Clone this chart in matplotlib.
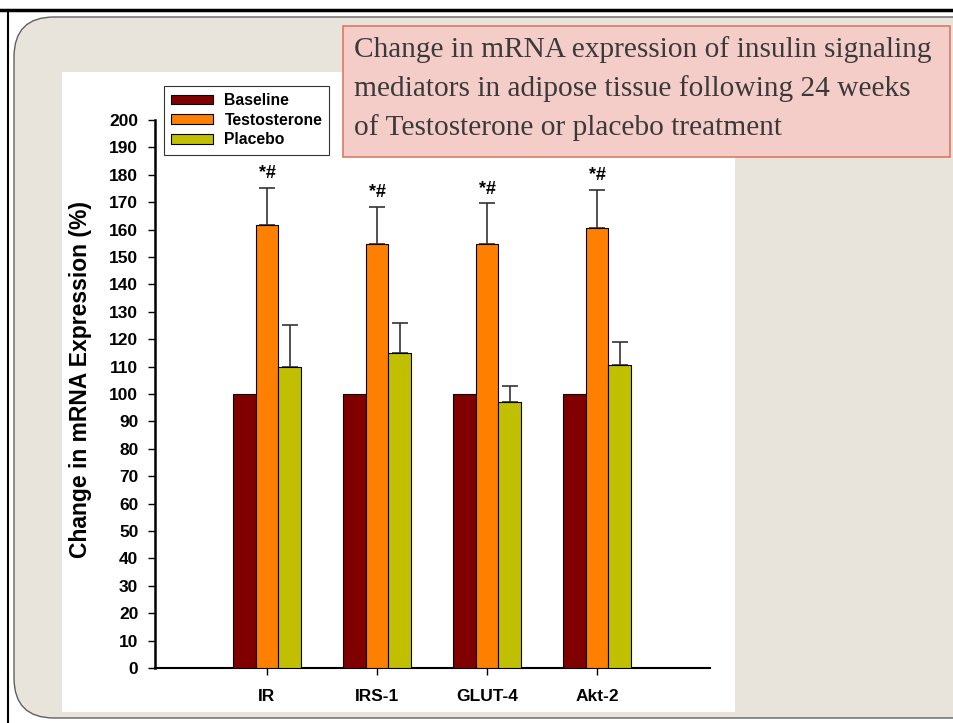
import matplotlib
matplotlib.use("Agg")
import matplotlib.pyplot as plt
import numpy as np
from matplotlib.patches import FancyBboxPatch, Rectangle

categories = ["IR", "IRS-1", "GLUT-4", "Akt-2"]
series_names = ["Baseline", "Testosterone", "Placebo"]
baseline = [100, 100, 100, 100]
testosterone = [161.5, 154.8, 154.6, 160.7]
testosterone_err = [13.8, 13.5, 15.1, 13.8]
placebo = [110.0, 115.0, 97.0, 110.6]
placebo_err = [15.2, 10.9, 6.0, 8.4]
yticks = list(range(0, 201, 10))
title_lines = ["Change in mRNA expression of insulin signaling",
               "mediators in adipose tissue following 24 weeks",
               "of Testosterone or placebo treatment"]
colors = ["#800000", "#FF8000", "#C0C000"]

W, H = 954, 723
fig = plt.figure(figsize=(W / 100, H / 100), dpi=100)
fig.patch.set_facecolor("white")

# background slide layer in pixel coordinates
bg = fig.add_axes([0, 0, 1, 1], zorder=0)
bg.set_xlim(0, W)
bg.set_ylim(H, 0)
bg.axis("off")
bg.plot([0, W], [10, 10], color="black", lw=2.5)
bg.plot([8, 8], [10, H], color="black", lw=1.5)
bg.add_patch(FancyBboxPatch((14 + 40, 17 + 40), 990 - 80, 701 - 80,
                            boxstyle="round,pad=40",
                            facecolor="#E8E4DC", edgecolor="#606060", lw=1))
bg.add_patch(Rectangle((62, 72), 673, 640, facecolor="white", edgecolor="none"))
bg.add_patch(Rectangle((343, 26), 607, 131, facecolor="#F4CDC8",
                       edgecolor="#DB7A62", lw=1.2))
for i, line in enumerate(title_lines):
    bg.text(354, 50 + i * 39, line, fontsize=21.2, family="Liberation Serif",
            color="#3a3a3a", va="center", ha="left")

# main chart
ax = fig.add_axes([155 / W, 1 - 668 / H, (710 - 155) / W, (668 - 120) / H], zorder=2)
ax.patch.set_alpha(0)
x = np.arange(len(categories))
bw = 0.205
ax.bar(x - bw, baseline, bw, color=colors[0], edgecolor="black", lw=0.8,
       label=series_names[0], zorder=3)
ax.bar(x, testosterone, bw, color=colors[1], edgecolor="black", lw=0.8,
       label=series_names[1], zorder=3)
ax.bar(x + bw, placebo, bw, color=colors[2], edgecolor="black", lw=0.8,
       label=series_names[2], zorder=3)
ax.errorbar(x, testosterone, yerr=[np.zeros(4), testosterone_err], fmt="none",
            ecolor="#333333", elinewidth=1.2, capsize=6, capthick=1.2, zorder=2)
ax.errorbar(x + bw, placebo, yerr=[np.zeros(4), placebo_err], fmt="none",
            ecolor="#333333", elinewidth=1.2, capsize=6, capthick=1.2, zorder=2)
for xi, t, e in zip(x, testosterone, testosterone_err):
    ax.text(xi, t + e + 2, "*#", ha="center", va="bottom", fontsize=13,
            fontweight="bold", family="Liberation Sans")

ax.set_xlim(-1.018, 4.027)
ax.set_ylim(0, 200)
ax.set_yticks(yticks)
ax.set_yticklabels([str(t) for t in yticks], fontsize=12.5, fontweight="bold",
                   family="Liberation Sans")
ax.set_xticks(x)
ax.set_xticklabels(categories, fontsize=12.5, fontweight="bold", family="Liberation Sans")
ax.tick_params(axis="y", direction="out", length=5, width=1, pad=7)
ax.tick_params(axis="x", direction="out", length=5, width=1, pad=10)
for s in ["top", "right"]:
    ax.spines[s].set_visible(False)
ax.spines["left"].set_linewidth(1.8)
ax.spines["bottom"].set_linewidth(1.5)
ax.set_ylabel("Change in mRNA Expression (%)", fontsize=16.5, fontweight="bold",
              family="Liberation Sans")
ax.yaxis.set_label_coords(-0.113, (668 - 380) / 548)

leg = ax.legend(loc="upper left", bbox_to_anchor=((164 - 155) / 555, (668 - 86) / 548),
                frameon=True, fancybox=False, edgecolor="black",
                prop={"family": "Liberation Sans", "weight": "bold", "size": 11.3},
                handlelength=2.7, handleheight=0.55, borderpad=0.45, labelspacing=0.3,
                handletextpad=0.7, borderaxespad=0)
leg.get_frame().set_linewidth(0.8)

fig.savefig("out.png", dpi=100, facecolor="white")
